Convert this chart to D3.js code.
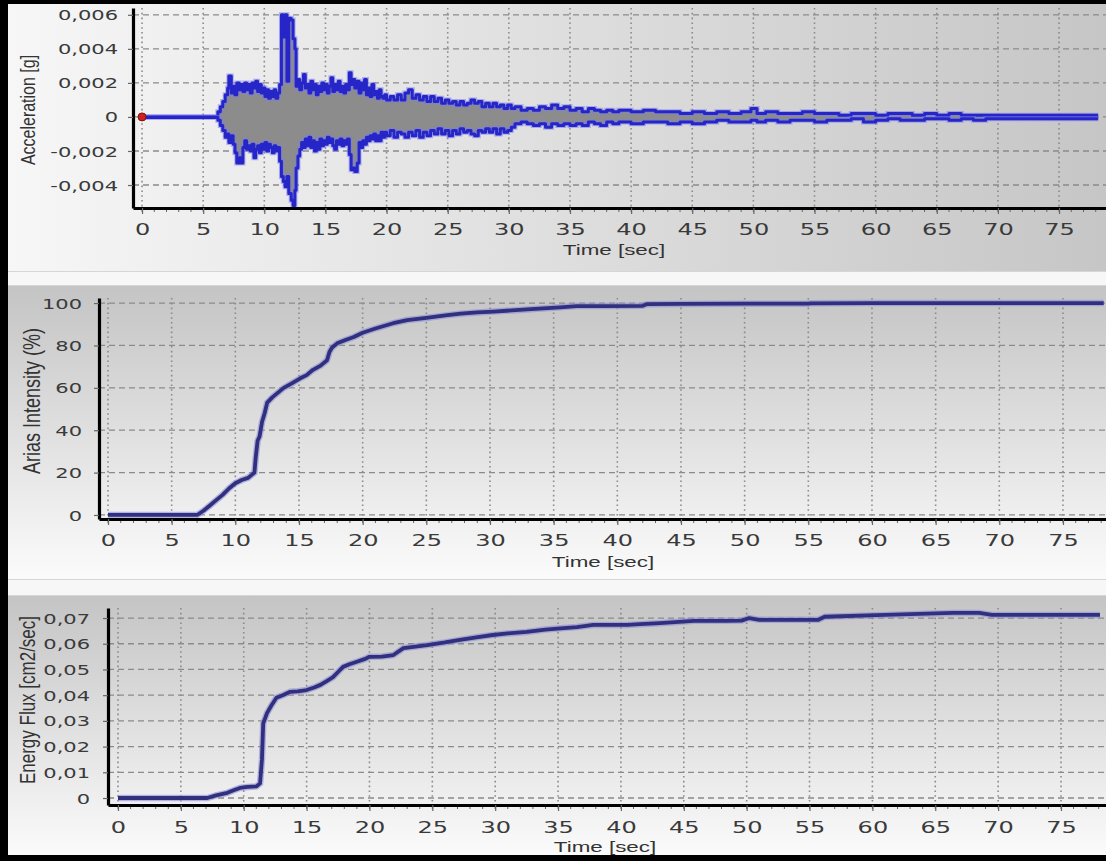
<!DOCTYPE html>
<html>
<head>
<meta charset="utf-8">
<script src="https://cdn.jsdelivr.net/npm/d3@7"></script>
<style>
  html, body { margin: 0; padding: 0; background: #ffffff; overflow: hidden; }
  svg { display: block; }
</style>
</head>
<body>
<script>
// ---- Tick values -------------------------------------------------------
const timeTicks = [0, 5, 10, 15, 20, 25, 30, 35, 40, 45, 50, 55, 60, 65, 70, 75];
const minorTimeTicks = [0,1,2,3,4,5,6,7,8,9,10,11,12,13,14,15,16,17,18,19,20,21,22,23,24,25,26,27,28,29,30,
  31,32,33,34,35,36,37,38,39,40,41,42,43,44,45,46,47,48,49,50,51,52,53,54,55,56,57,58,59,60,61,62,63,64,65,
  66,67,68,69,70,71,72,73,74,75,76,77,78];
const accelTicks = [-0.004, -0.002, 0, 0.002, 0.004, 0.006];
const ariasTicks = [0, 20, 40, 60, 80, 100];
const fluxTicks = [0, 0.01, 0.02, 0.03, 0.04, 0.05, 0.06, 0.07];

// ---- Acceleration record: positive / negative envelope [g] --------------
const accelTime = [0, 6.0, 6.2, 6.4, 6.6, 6.8, 7.0, 7.1, 7.3, 7.45, 7.6, 7.75, 7.95, 8.1, 8.25, 8.4, 8.55, 8.7,
  8.85, 9.0, 9.15, 9.3, 9.45, 9.6, 9.75, 9.9, 10.05, 10.2, 10.35, 10.5, 10.65, 10.8, 10.95, 11.1, 11.25, 11.4,
  11.55, 11.7, 11.85, 12.0, 12.2, 12.35, 12.5, 12.6, 12.75, 12.9, 13.05, 13.2, 13.35, 13.5, 13.65, 13.8, 13.95,
  14.1, 14.25, 14.4, 14.55, 14.7, 14.85, 15.0, 15.15, 15.3, 15.45, 15.6, 15.75, 15.9, 16.05, 16.2, 16.35, 16.5,
  16.65, 16.8, 16.95, 17.1, 17.25, 17.4, 17.6, 17.75, 17.9, 18.05, 18.2, 18.35, 18.5, 18.65, 18.8, 18.95, 19.1,
  19.25, 19.4, 19.55, 19.7, 19.85, 20.0, 20.3, 20.6, 20.9, 21.2, 21.5, 21.8, 22.1, 22.4, 22.7, 23.0, 23.3, 23.6,
  23.9, 24.2, 24.5, 24.8, 25.1, 25.4, 25.7, 26.0, 26.3, 26.6, 26.9, 27.2, 27.5, 27.8, 28.1, 28.4, 28.7, 29.0,
  29.3, 29.6, 29.9, 30.2, 30.5, 31.0, 31.5, 32.0, 32.5, 33.0, 33.5, 34.0, 34.5, 35.0, 35.5, 36.0, 36.5, 37.0,
  37.5, 38.0, 38.5, 39.0, 40.0, 41.0, 42.0, 43.0, 44.0, 45.0, 46.0, 47.0, 48.0, 49.0, 49.8, 50.3, 51.0, 52.0,
  53.0, 54.0, 55.0, 56.0, 57.0, 58.0, 59.0, 60.0, 61.0, 62.0, 63.0, 64.0, 65.0, 66.0, 67.0, 68.0, 69.0, 70.0,
  72.0, 74.0, 76.0, 78.2];
const accelUpper = [0.00003, 0.00003, 0.0003, 0.0006, 0.0009, 0.0013, 0.0017, 0.0024, 0.0014, 0.0018, 0.0013,
  0.0020, 0.0016, 0.0019, 0.0015, 0.0020, 0.0016, 0.0019, 0.0014, 0.0020, 0.0017, 0.0021, 0.0015, 0.0019,
  0.0014, 0.0017, 0.0012, 0.0016, 0.0011, 0.0015, 0.0012, 0.0016, 0.0011, 0.0014, 0.0019, 0.0060, 0.0047,
  0.0060, 0.0021, 0.0058, 0.0057, 0.0046, 0.0040, 0.0018, 0.0022, 0.0016, 0.0020, 0.0025, 0.0017, 0.0019,
  0.0014, 0.0021, 0.0016, 0.0019, 0.0013, 0.0018, 0.0015, 0.0020, 0.0016, 0.0019, 0.0014, 0.0018, 0.0023,
  0.0015, 0.0019, 0.0016, 0.0021, 0.0015, 0.0018, 0.0014, 0.0019, 0.0016, 0.0026, 0.0019, 0.0022, 0.0017,
  0.0021, 0.0014, 0.0020, 0.0016, 0.0022, 0.0013, 0.0017, 0.0012, 0.0019, 0.0013, 0.0015, 0.0011, 0.0016,
  0.0012, 0.0011, 0.0013, 0.0010, 0.0012, 0.0010, 0.0013, 0.0010, 0.0014, 0.0016, 0.0011, 0.0013, 0.0010,
  0.0012, 0.0009, 0.0012, 0.0009, 0.0011, 0.0008, 0.0010, 0.0008, 0.0009, 0.0007, 0.0009, 0.0007, 0.0008,
  0.0010, 0.0008, 0.0009, 0.0006, 0.0008, 0.0006, 0.0008, 0.0006, 0.0007, 0.0005, 0.0007, 0.0005, 0.0006,
  0.0004, 0.0005, 0.0004, 0.0006, 0.0005, 0.0007, 0.0005, 0.0006, 0.0004, 0.0005, 0.0003, 0.0005, 0.0004,
  0.0003, 0.0004, 0.0003, 0.0004, 0.0003, 0.0004, 0.0003, 0.0003, 0.0002, 0.0003, 0.0002, 0.0003, 0.0002,
  0.0003, 0.0005, 0.0002, 0.0003, 0.0002, 0.0002, 0.0003, 0.0002, 0.0002, 0.0001, 0.0002, 0.0002, 0.0001,
  0.0002, 0.0002, 0.0001, 0.0002, 0.0001, 0.0002, 0.0001, 0.0001, 0.0001, 0.0001, 0.0001, 0.0001, 0.0001,
  0.0001];
const accelLower = [-0.00003, -0.00003, -0.0002, -0.0005, -0.0008, -0.0012, -0.0010, -0.0015, -0.0011, -0.0016,
  -0.0021, -0.0027, -0.0024, -0.0027, -0.0018, -0.0014, -0.0019, -0.0017, -0.0020, -0.0016, -0.0024, -0.0019,
  -0.0017, -0.0021, -0.0016, -0.0019, -0.0015, -0.0020, -0.0016, -0.0018, -0.0021, -0.0017, -0.0020, -0.0018,
  -0.0026, -0.0035, -0.0038, -0.0041, -0.0035, -0.0045, -0.0049, -0.0052, -0.0043, -0.0030, -0.0023, -0.0019,
  -0.0015, -0.0018, -0.0013, -0.0017, -0.0012, -0.0018, -0.0014, -0.0020, -0.0015, -0.0019, -0.0013, -0.0017,
  -0.0014, -0.0016, -0.0012, -0.0015, -0.0013, -0.0017, -0.0019, -0.0014, -0.0016, -0.0013, -0.0017, -0.0014,
  -0.0016, -0.0013, -0.0022, -0.0031, -0.0030, -0.0032, -0.0027, -0.0015, -0.0018, -0.0014, -0.0016, -0.0012,
  -0.0014, -0.0011, -0.0013, -0.0010, -0.0014, -0.0011, -0.0014, -0.0009, -0.0012, -0.0009, -0.0011, -0.0008,
  -0.0012, -0.0009, -0.0010, -0.0012, -0.0009, -0.0011, -0.0008, -0.0012, -0.0009, -0.0011, -0.0008, -0.0010,
  -0.0007, -0.0010, -0.0008, -0.0011, -0.0008, -0.0010, -0.0007, -0.0009, -0.0008, -0.0010, -0.0011, -0.0008,
  -0.0009, -0.0007, -0.0009, -0.0007, -0.0010, -0.0007, -0.0009, -0.0008, -0.0006, -0.0004, -0.0003, -0.0004,
  -0.0005, -0.0004, -0.0006, -0.0004, -0.0005, -0.0004, -0.0005, -0.0004, -0.0005, -0.0003, -0.0004, -0.0005,
  -0.0003, -0.0004, -0.0003, -0.0004, -0.0003, -0.0003, -0.0004, -0.0003, -0.0004, -0.0003, -0.0002, -0.0003,
  -0.0003, -0.0002, -0.0003, -0.0002, -0.0003, -0.0002, -0.0002, -0.0003, -0.0002, -0.0002, -0.0001, -0.0003,
  -0.0002, -0.0001, -0.0002, -0.0002, -0.0001, -0.0001, -0.0002, -0.0001, -0.0002, -0.0001, -0.0001, -0.0001,
  -0.0001, -0.0001, -0.0001];

// ---- Cumulative Arias intensity [%] ------------------------------------
const ariasTime = [0, 7.0, 7.5, 8.0, 8.5, 9.0, 9.5, 10.0, 10.5, 11.0, 11.5, 11.6, 11.75, 11.9, 12.1, 12.3, 12.5,
  12.9, 13.3, 13.8, 14.4, 15.1, 15.6, 16.1, 16.7, 17.2, 17.4, 17.6, 18.0, 18.6, 19.3, 20.0, 21.0, 22.4, 23.5,
  25.0, 26.5, 27.7, 29.0, 30.3, 32.9, 35.5, 36.8, 39.0, 42.0, 42.3, 45.0, 50.0, 55.0, 55.2, 60.0, 65.0, 70.0, 78.2];
const ariasValue = [0, 0, 2, 4.5, 7, 9.5, 12.5, 15, 16.5, 17.5, 20, 27, 35, 37, 44, 48, 53, 55.5, 57.5, 60, 62,
  64.5, 66, 68.5, 70.5, 73, 77, 79, 81, 82.5, 84, 86, 88, 90.5, 92, 93, 94.2, 95, 95.6, 96, 97, 98, 98.6, 98.6,
  98.7, 99.5, 99.6, 99.7, 99.7, 99.9, 100, 100, 100, 100];

// ---- Cumulative energy flux [cm2/sec] ----------------------------------
const fluxTime = [0, 7.1, 7.8, 8.7, 9.2, 9.7, 10.3, 11.0, 11.3, 11.45, 11.55, 11.7, 11.85, 12.2, 12.6, 13.1, 13.7,
  14.3, 15.0, 15.6, 16.1, 16.6, 17.1, 17.5, 17.9, 18.4, 19.0, 19.6, 20.0, 21.0, 21.9, 22.7, 23.5, 24.6, 26.0,
  27.2, 28.5, 29.8, 31.0, 32.5, 34.0, 35.2, 36.5, 37.8, 40.5, 41.5, 43.1, 45.8, 48.4, 49.6, 50.2, 51.0, 55.7,
  56.2, 61.0, 66.4, 68.5, 69.5, 78.1];
const fluxValue = [0, 0, 0.001, 0.002, 0.003, 0.0039, 0.0043, 0.0045, 0.0057, 0.015, 0.029, 0.031, 0.033, 0.036,
  0.039, 0.040, 0.0413, 0.0415, 0.042, 0.043, 0.044, 0.0455, 0.047, 0.049, 0.051, 0.052, 0.053, 0.054, 0.0549,
  0.055, 0.0556, 0.0583, 0.0588, 0.0595, 0.0605, 0.0615, 0.0625, 0.0634, 0.064, 0.0646, 0.0655, 0.066, 0.0665,
  0.0673, 0.0673, 0.0676, 0.068, 0.0689, 0.0689, 0.069, 0.070, 0.0693, 0.0693, 0.0705, 0.0712, 0.072, 0.072,
  0.0712, 0.0712];

// ---- Page ---------------------------------------------------------------
const W = 1106, H = 861;
const svg = d3.select("body").append("svg").attr("width", W).attr("height", H);
const defs = svg.append("defs");

const gradTop = defs.append("linearGradient").attr("id", "bgTop")
  .attr("x1", 0).attr("y1", 0).attr("x2", 1).attr("y2", 0);
gradTop.append("stop").attr("offset", 0).attr("stop-color", "#f7f7f7");
gradTop.append("stop").attr("offset", 1).attr("stop-color", "#c6c6c6");

const gradV = defs.append("linearGradient").attr("id", "bgV")
  .attr("x1", 0).attr("y1", 0).attr("x2", 0).attr("y2", 1);
gradV.append("stop").attr("offset", 0).attr("stop-color", "#c4c4c4");
gradV.append("stop").attr("offset", 1).attr("stop-color", "#fbfbfb");

svg.append("rect").attr("width", W).attr("height", H).attr("fill", "#f7f7f7");
svg.append("rect").attr("x", 0).attr("y", 0).attr("width", W).attr("height", 271).attr("fill", "url(#bgTop)");
svg.append("rect").attr("x", 0).attr("y", 285).attr("width", W).attr("height", 294).attr("fill", "url(#bgV)");
svg.append("rect").attr("x", 0).attr("y", 595).attr("width", W).attr("height", 261).attr("fill", "url(#bgV)");
[271, 285, 579, 595].forEach(yy => {
  svg.append("line").attr("x1", 0).attr("x2", W).attr("y1", yy + 0.5).attr("y2", yy + 0.5)
    .attr("stroke", "#d6d6d6").attr("stroke-width", 1);
});

// Outer frame
svg.append("rect").attr("x", 0).attr("y", 0).attr("width", W).attr("height", 4).attr("fill", "#000");
svg.append("rect").attr("x", 0).attr("y", 0).attr("width", 8).attr("height", H).attr("fill", "#000");
svg.append("rect").attr("x", 0).attr("y", 855).attr("width", W).attr("height", 6).attr("fill", "#000");

const loc = d3.formatLocale({ decimal: ",", thousands: ".", grouping: [3], currency: ["", ""], minus: "-" });
const fmt3 = loc.format(".3f"), fmt2 = loc.format(".2f");

const GRID = "#8b8b8b";
const TICKFONT = "DejaVu Sans";
const TITLEFONT = "Liberation Sans, Arial, sans-serif";

function panel(o) {
  const g = svg.append("g");
  const x = o.x, y = o.y;
  const [x0, x1] = x.range();
  const [yb, yt] = y.range();

  // grid
  g.append("g").selectAll("line").data(timeTicks).join("line")
    .attr("x1", d => x(d)).attr("x2", d => x(d)).attr("y1", yt).attr("y2", yb)
    .attr("stroke", GRID).attr("stroke-width", 1.6).attr("stroke-dasharray", "1.6,3.2");
  g.append("g").selectAll("line").data(o.yTicks).join("line")
    .attr("x1", x0).attr("x2", x1).attr("y1", d => y(d)).attr("y2", d => y(d))
    .attr("stroke", GRID).attr("stroke-width", 1.3).attr("stroke-dasharray", "6,4");

  // series
  o.draw(g, x, y);

  // minor ticks on the time axis
  g.append("g").selectAll("line").data(minorTimeTicks).join("line")
    .attr("x1", d => x(d)).attr("x2", d => x(d)).attr("y1", yb).attr("y2", yb + 4)
    .attr("stroke", "#666").attr("stroke-width", 1);

  // y axis
  const ay = g.append("g").attr("transform", `translate(${x0},0)`)
    .call(d3.axisLeft(y).tickValues(o.yTicks).tickFormat(o.fmt).tickSize(5).tickSizeOuter(0));
  ay.select(".domain").attr("stroke", "#000").attr("stroke-width", 3.2);
  ay.selectAll(".tick line").attr("stroke", "#666").attr("stroke-width", 1.2);
  ay.selectAll(".tick text")
    .attr("x", 0).attr("dy", "0.36em")
    .attr("transform", `translate(${-o.yGap},0) scale(${o.sx},1)`)
    .attr("text-anchor", "end")
    .attr("fill", "#3a3a3a").attr("font-family", TICKFONT).attr("font-size", o.yFont);

  // x axis
  const ax = g.append("g").attr("transform", `translate(0,${yb})`)
    .call(d3.axisBottom(x).tickValues(timeTicks).tickFormat(d3.format("d")).tickSize(6).tickSizeOuter(0));
  ax.select(".domain").attr("stroke", "#000").attr("stroke-width", 3.2);
  ax.selectAll(".tick line").attr("stroke", "#666").attr("stroke-width", 1.2);
  ax.selectAll(".tick text")
    .attr("y", 0).attr("dy", "0.36em")
    .attr("transform", `translate(0,${o.xGap}) scale(${o.sxX},1)`)
    .attr("fill", "#3a3a3a").attr("font-family", TICKFONT).attr("font-size", o.xFont);

  // titles
  g.append("text").text("Time [sec]")
    .attr("transform", `translate(${o.xTitle[0]},${o.xTitle[1]}) scale(1.6,1)`)
    .attr("text-anchor", "middle").attr("dy", "0.36em")
    .attr("font-family", TITLEFONT).attr("font-size", 14).attr("fill", "#333");
  g.append("text").text(o.yTitle)
    .attr("transform", `translate(${o.yTitlePos[0]},${o.yTitlePos[1]}) scale(1.3,1) rotate(-90)`)
    .attr("text-anchor", "middle").attr("dy", "0.36em")
    .attr("font-family", TITLEFONT).attr("font-size", o.yTitleSize).attr("fill", "#333");
}

// ---- Acceleration panel ----
panel({
  x: d3.scaleLinear().domain([-0.74, 78.84]).range([133, 1106]),
  y: d3.scaleLinear().domain([-0.00535, 0.0064]).range([208, 8]),
  yTicks: accelTicks,
  fmt: d => d === 0 ? "0" : fmt3(d),
  yGap: 15, xGap: 21, sx: 1.5, sxX: 1.55, yFont: 14, xFont: 15.5,
  xTitle: [614, 250], yTitle: "Acceleration [g]", yTitlePos: [28, 110], yTitleSize: 16,
  draw: (g, x, y) => {
    const idx = d3.range(accelTime.length);
    const area = d3.area().curve(d3.curveStepAfter)
      .x(i => x(accelTime[i])).y0(i => y(accelLower[i])).y1(i => y(accelUpper[i]));
    g.append("path").datum(idx).attr("d", area).attr("fill", "#8c8c8c");
    const up = d3.line().curve(d3.curveStepAfter).x(i => x(accelTime[i])).y(i => y(accelUpper[i]));
    const lo = d3.line().curve(d3.curveStepAfter).x(i => x(accelTime[i])).y(i => y(accelLower[i]));
    [up, lo].forEach(l => {
      g.append("path").datum(idx).attr("d", l).attr("fill", "none")
        .attr("stroke", "#7a7af0").attr("stroke-opacity", 0.55).attr("stroke-width", 5);
      g.append("path").datum(idx).attr("d", l).attr("fill", "none")
        .attr("stroke", "#2626c8").attr("stroke-width", 3).attr("stroke-linejoin", "round");
    });
    g.append("circle").attr("cx", x(0)).attr("cy", y(0)).attr("r", 4)
      .attr("fill", "#d02020").attr("stroke", "#7a1010").attr("stroke-width", 1);
  }
});

function cumulative(times, values) {
  return (g, x, y) => {
    const idx = d3.range(times.length);
    const l = d3.line().x(i => x(times[i])).y(i => y(values[i]));
    g.append("path").datum(idx).attr("d", l).attr("fill", "none")
      .attr("stroke", "#8c8cd8").attr("stroke-opacity", 0.6).attr("stroke-width", 6.5);
    g.append("path").datum(idx).attr("d", l).attr("fill", "none")
      .attr("stroke", "#30307e").attr("stroke-width", 3.8).attr("stroke-linejoin", "round");
  };
}

// ---- Arias intensity panel ----
panel({
  x: d3.scaleLinear().domain([-0.707, 78.38]).range([99, 1106]),
  y: d3.scaleLinear().domain([-1.9, 102.4]).range([519, 298]),
  yTicks: ariasTicks,
  fmt: d3.format("d"),
  yGap: 17, xGap: 21, sx: 1.5, sxX: 1.55, yFont: 14, xFont: 15.5,
  xTitle: [603, 562], yTitle: "Arias Intensity (%)", yTitlePos: [32, 401], yTitleSize: 18,
  draw: cumulative(ariasTime, ariasValue)
});

// ---- Energy flux panel ----
panel({
  x: d3.scaleLinear().domain([-0.795, 78.58]).range([108, 1106]),
  y: d3.scaleLinear().domain([-0.00272, 0.0739]).range([805, 608]),
  yTicks: fluxTicks,
  fmt: d => d === 0 ? "0" : fmt2(d),
  yGap: 18, xGap: 22, sx: 1.5, sxX: 1.55, yFont: 14, xFont: 15.5,
  xTitle: [605, 847], yTitle: "Energy Flux [cm2/sec]", yTitlePos: [27, 700], yTitleSize: 17,
  draw: cumulative(fluxTime, fluxValue)
});
</script>
</body>
</html>
